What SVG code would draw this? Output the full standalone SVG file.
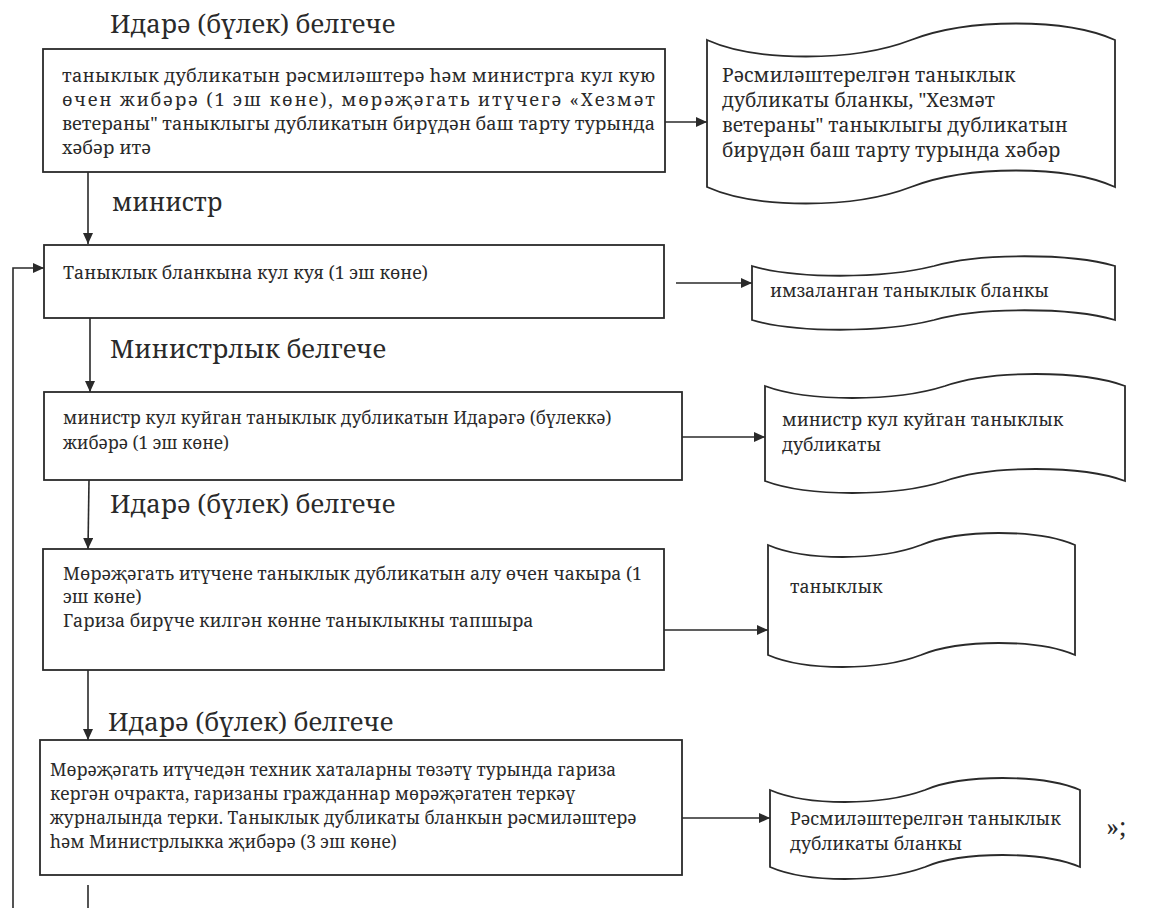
<svg xmlns="http://www.w3.org/2000/svg" width="1167" height="908" viewBox="0 0 1167 908">
<style>
text{font-family:"Noto Serif","DejaVu Serif",serif;fill:#2a2a2a}
.h{font-size:25.5px}
.m{font-size:24.5px}
.t{font-size:17.8px}
.t3{font-size:17.3px}
.t1{font-size:18.3px}
.t2{font-size:19.3px}
.box{fill:#fff;stroke:#2a2a2a;stroke-width:1.8}
.doc{fill:#fff;stroke:#2a2a2a;stroke-width:1.8}
.c{fill:none;stroke:#2a2a2a;stroke-width:1.6}
</style>
<defs>
<marker id="ah" viewBox="0 0 11 10" refX="11" refY="5" markerWidth="11" markerHeight="10" markerUnits="userSpaceOnUse" orient="auto">
<path d="M0,0 L11,5 L0,10 z" fill="#2a2a2a"/>
</marker>
</defs>
<rect width="1167" height="908" fill="#fff"/>

<g id="labels">
<text class="h" x="110" y="33">Идарә (бүлек) белгече</text>
<text class="m" x="112" y="211">министр</text>
<text class="h" x="110" y="358">Министрлык белгече</text>
<text class="h" x="110" y="513">Идарә (бүлек) белгече</text>
<text class="h" x="108" y="731">Идарә (бүлек) белгече</text>
<text class="h" x="1106" y="836">»;</text>
</g>

<g id="connectors">
<line class="c" x1="665" y1="122" x2="707" y2="122" marker-end="url(#ah)"/>
<line class="c" x1="88" y1="160" x2="88" y2="244" marker-end="url(#ah)"/>
<line class="c" x1="676" y1="283" x2="752" y2="283" marker-end="url(#ah)"/>
<line class="c" x1="90" y1="318" x2="90" y2="392" marker-end="url(#ah)"/>
<line class="c" x1="682" y1="437" x2="765" y2="437" marker-end="url(#ah)"/>
<line class="c" x1="89" y1="480" x2="88" y2="549" marker-end="url(#ah)"/>
<line class="c" x1="664" y1="630" x2="768" y2="630" marker-end="url(#ah)"/>
<line class="c" x1="88" y1="670" x2="88" y2="740" marker-end="url(#ah)"/>
<line class="c" x1="682" y1="818" x2="770" y2="818" marker-end="url(#ah)"/>
<polyline class="c" points="13,908 13,268 44,268" marker-end="url(#ah)"/>
<line class="c" x1="88" y1="885" x2="88" y2="908"/>
</g>

<g id="step1">
<rect class="box" x="43" y="49" width="622" height="123"/>
<text class="t1" x="62" y="82" textLength="593" lengthAdjust="spacing">таныклык дубликатын рәсмиләштерә һәм министрга кул кую</text>
<text class="t1" x="62" y="106" textLength="593" lengthAdjust="spacing">өчен жибәрә (1 эш көне), мөрәҗәгать итүчегә «Хезмәт</text>
<text class="t1" x="62" y="130" textLength="593" lengthAdjust="spacingAndGlyphs">ветераны" таныклыгы дубликатын бирүдән баш тарту турында</text>
<text class="t1" x="62" y="154">хәбәр итә</text>
</g>

<g id="doc1">
<path class="doc" d="M707,40 C756,62 854,62 911,40 C968,18 1066,18 1115,40 L1115,187 C1066,165 968,165 911,187 C854,209 756,209 707,187 Z"/>
<text class="t2" x="722" y="82">Рәсмиләштерелгән таныклык</text>
<text class="t2" x="722" y="107">дубликаты бланкы, "Хезмәт</text>
<text class="t2" x="722" y="132">ветераны" таныклыгы дубликатын</text>
<text class="t2" x="722" y="157">бирүдән баш тарту турында хәбәр</text>
</g>

<g id="step2">
<rect class="box" x="44" y="245" width="620" height="73"/>
<text class="t" x="63" y="279">Таныклык бланкына кул куя (1 эш көне)</text>
</g>

<g id="doc2">
<path class="doc" d="M752,266 C796,279 882,279 934,266 C978,253 1071,253 1115,266 L1115,320 C1071,307 978,307 934,320 C882,333 796,333 752,320 Z"/>
<text class="t" x="770" y="297">имзаланган таныклык бланкы</text>
</g>

<g id="step3">
<rect class="box" x="44" y="392" width="638" height="88"/>
<text class="t3" x="63" y="424">министр кул куйган таныклык дубликатын Идарәгә (бүлеккә)</text>
<text class="t3" x="63" y="449">жибәрә (1 эш көне)</text>
</g>

<g id="doc3">
<path class="doc" d="M765,386 C808,402 895,402 945,386 C990,370 1082,370 1125,386 L1125,481 C1082,465 990,465 945,481 C895,497 808,497 765,481 Z"/>
<text class="t" x="782" y="426">министр кул куйган таныклык</text>
<text class="t" x="782" y="451">дубликаты</text>
</g>

<g id="step4">
<rect class="box" x="43" y="549" width="621" height="121"/>
<text class="t" x="63" y="580">Мөрәҗәгать итүчене таныклык дубликатын алу өчен чакыра (1</text>
<text class="t" x="63" y="603">эш көне)</text>
<text class="t" x="63" y="627">Гариза бирүче килгән көнне таныклыкны тапшыра</text>
</g>

<g id="doc4">
<path class="doc" d="M768,545 C805,561 879,561 921,545 C960,529 1038,529 1075,545 L1075,655 C1038,639 960,639 921,655 C879,671 805,671 768,655 Z"/>
<text class="t" x="790" y="593">таныклык</text>
</g>

<g id="step5">
<rect class="box" x="40" y="740" width="642" height="135"/>
<text class="t3" x="50" y="776">Мөрәҗәгать итүчедән техник хаталарны төзәтү турында гариза</text>
<text class="t3" x="50" y="800">кергән очракта, гаризаны гражданнар мөрәҗәгатен теркәү</text>
<text class="t3" x="50" y="824">журналында терки. Таныклык дубликаты бланкын рәсмиләштерә</text>
<text class="t3" x="50" y="848">һәм Министрлыкка җибәрә (3 эш көне)</text>
</g>

<g id="doc5">
<path class="doc" d="M770,790 C807,806 881,806 925,790 C962,774 1043,774 1080,790 L1080,867 C1043,851 962,851 925,867 C881,883 807,883 770,867 Z"/>
<text class="t" x="790" y="825">Рәсмиләштерелгән таныклык</text>
<text class="t" x="790" y="850">дубликаты бланкы</text>
</g>
</svg>
